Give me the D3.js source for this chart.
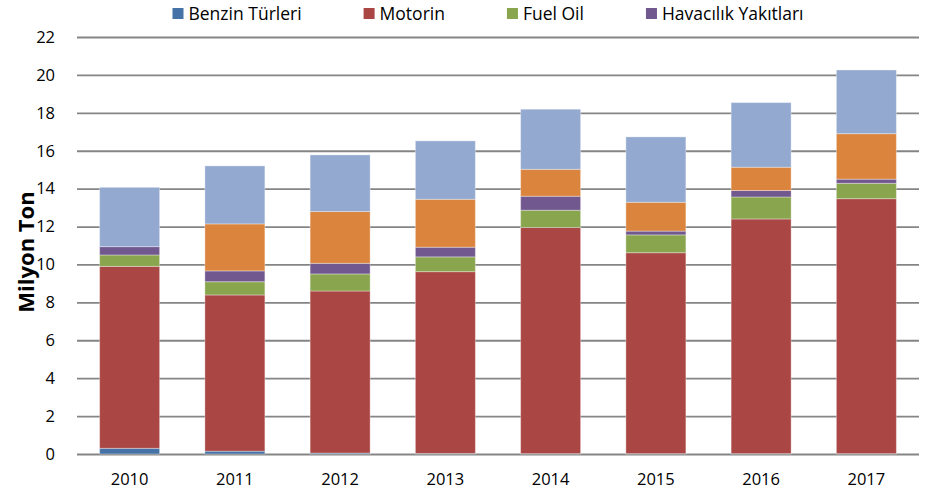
<!DOCTYPE html>
<html>
    <head>
        <meta charset="UTF-8">
        <title>Milyon Ton</title>
        <script src="https://cdn.jsdelivr.net/npm/d3@7/dist/d3.min.js" type="text/javascript"></script>
        <style>
            body { margin: 0; background: #fff; }
            text { font-family: 'Open Sans', sans-serif; fill: #000; }
            .axis text { font-size: 16.5px; }
        </style>
    </head>
    <body>
        <svg id="svg"></svg>

        <script>

            var WIDTH = 932;
            var HEIGHT = 492;

            // Values (million tons)
            var years     = ['2010','2011','2012','2013','2014','2015','2016','2017'];
            var benzin    = [0.30, 0.15, 0.05, 0.03, 0.02, 0.02, 0.02, 0.02];
            var motorin   = [9.60, 8.24, 8.55, 9.59, 11.93, 10.60, 12.38, 13.45];
            var fuelOil   = [0.60, 0.70, 0.90, 0.78, 0.91, 0.94, 1.16, 0.81];
            var havacilik = [0.44, 0.57, 0.56, 0.51, 0.74, 0.20, 0.34, 0.22];
            var seri5     = [0.00, 2.48, 2.73, 2.53, 1.42, 1.52, 1.23, 2.40];
            var seri6     = [3.13, 3.06, 2.99, 3.08, 3.17, 3.45, 3.41, 3.36];

            var yTicks = [0, 2, 4, 6, 8, 10, 12, 14, 16, 18, 20, 22];

            var keys    = ['benzin','motorin','fuelOil','havacilik','seri5','seri6'];
            var labels  = ['Benzin Türleri','Motorin','Fuel Oil','Havacılık Yakıtları'];
            var colors  = ['#4572A7','#AA4643','#89A54E','#71588F','#DB843D','#93A9CF'];
            var series  = [benzin, motorin, fuelOil, havacilik, seri5, seri6];

            // Build table for the stack
            var table = years.map(function(y, i){
                var row = {year: y};
                keys.forEach(function(k, j){ row[k] = series[j][i]; });
                return row;
            });

            var svg = d3.select('#svg')
                        .attr('width', WIDTH)
                        .attr('height', HEIGHT);

            var LEFT = 77, RIGHT = 919, TOP = 37, BOTTOM = 454;

            var xScale = d3.scaleBand()
                           .domain(years)
                           .range([LEFT, RIGHT])
                           .paddingInner(0.43)
                           .paddingOuter(0.215);
            var yScale = d3.scaleLinear()
                           .domain([0, 22])
                           .range([BOTTOM, TOP]);

            // gridlines + y labels
            var yAxis = d3.axisLeft(yScale)
                          .tickValues(yTicks)
                          .tickSize(-(RIGHT - LEFT))
                          .tickPadding(22);
            var gy = svg.append('g')
                        .attr('class', 'axis')
                        .attr('transform', 'translate(' + LEFT + ',0)')
                        .call(yAxis);
            gy.select('.domain').remove();
            gy.selectAll('line').attr('stroke', '#858585').attr('stroke-width', 1.8);

            var xAxis = d3.axisBottom(xScale).tickSize(0).tickPadding(19);
            var gx = svg.append('g')
                        .attr('class', 'axis')
                        .attr('transform', 'translate(0,' + BOTTOM + ')')
                        .call(xAxis);
            gx.select('.domain').remove();

            // stacked bars
            var stacked = d3.stack().keys(keys)(table);
            svg.append('g').selectAll('g')
               .data(stacked)
               .enter()
               .append('g')
               .attr('fill', function(d, i){ return colors[i]; })
               .selectAll('rect')
               .data(function(d){ return d; })
               .enter()
               .append('rect')
               .attr('x', function(d){ return xScale(d.data.year); })
               .attr('y', function(d){ return yScale(d[1]); })
               .attr('width', xScale.bandwidth())
               .attr('height', function(d){ return yScale(d[0]) - yScale(d[1]); })
               .attr('stroke', 'rgba(255,255,255,0.35)')
               .attr('stroke-width', 1);

            // y title
            svg.append('text')
               .attr('transform', 'translate(34,252) rotate(-90)')
               .attr('text-anchor', 'middle')
               .style('font-size', '22px')
               .style('font-weight', 'bold')
               .text('Milyon Ton');

            // legend, centred over the chart
            var GAP = 62;
            var legend = svg.append('g');
            var item = legend.selectAll('g')
                             .data(labels)
                             .enter()
                             .append('g');
            item.append('rect')
                .attr('width', 11).attr('height', 11)
                .attr('y', 8)
                .attr('fill', function(d, i){ return colors[i]; });
            item.append('text')
                .attr('x', 16)
                .attr('y', 20)
                .style('font-size', '17.5px')
                .text(function(d){ return d; });
            var xPos = 0;
            item.each(function(){
                var w = d3.select(this).select('text').node().getComputedTextLength();
                d3.select(this).attr('transform', 'translate(' + xPos + ',0)');
                xPos += 16 + w + GAP;
            });
            var total = xPos - GAP;
            legend.attr('transform', 'translate(' + (488 - total / 2) + ',0)');

        </script>
    </body>
</html>
